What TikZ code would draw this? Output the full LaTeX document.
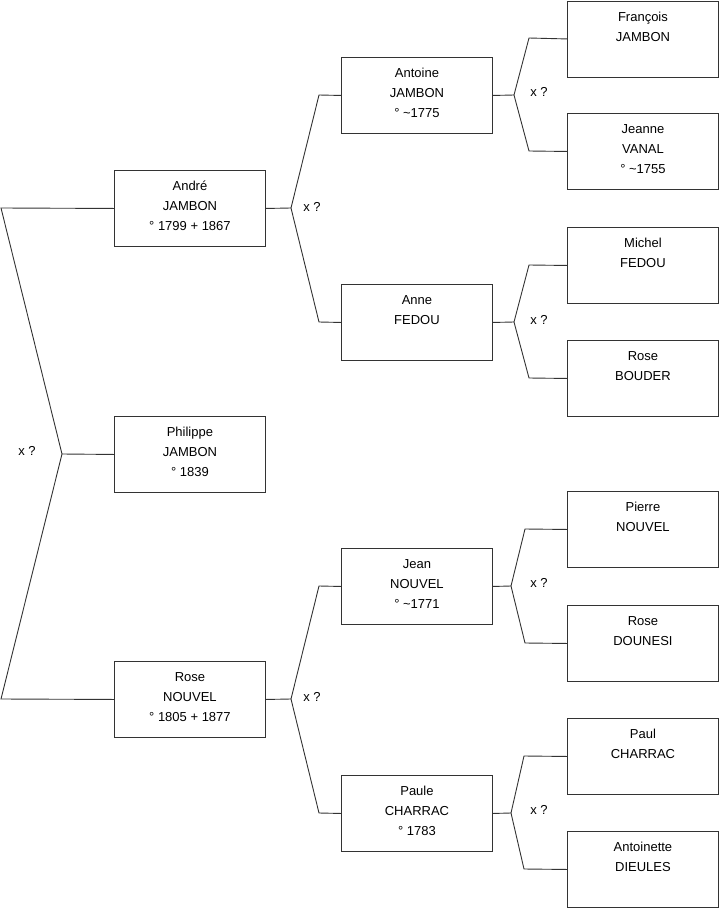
\documentclass[tikz,border=0pt]{standalone}
\usepackage{fontspec}
\setmainfont{Liberation Sans}
\newcommand\pbox[1]{\parbox[c][76pt][t]{151pt}{\fontsize{13}{20}\selectfont\centering\rule{0pt}{20.5pt}#1}}
\tikzset{
 person/.style={draw=black!80, line width=0.9pt, inner sep=0pt, anchor=north west},
 link/.style={draw=black!80, line width=0.9pt},
 marr/.style={font=\fontsize{13}{15}\selectfont, inner sep=0pt}
}
\begin{document}
\begin{tikzpicture}[x=1pt,y=-1pt]
\useasboundingbox (0,0) rectangle (719,908);
% column 1
\node[person] (andre) at (114,170) {\pbox{André\\JAMBON\\° 1799 + 1867}};
\node[person] (philippe) at (114,416) {\pbox{Philippe\\JAMBON\\° 1839}};
\node[person] (rose) at (114,661) {\pbox{Rose\\NOUVEL\\° 1805 + 1877}};
% column 2
\node[person] (antoine) at (341,57) {\pbox{Antoine\\JAMBON\\° \textasciitilde1775}};
\node[person] (anne) at (341,284) {\pbox{Anne\\FEDOU}};
\node[person] (jean) at (341,548) {\pbox{Jean\\NOUVEL\\° \textasciitilde1771}};
\node[person] (paule) at (341,775) {\pbox{Paule\\CHARRAC\\° 1783}};
% column 3
\node[person] (francois) at (567,0.5) {\pbox{François\\JAMBON}};
\node[person] (jeanne) at (567,113) {\pbox{Jeanne\\VANAL\\° \textasciitilde1755}};
\node[person] (michel) at (567,227) {\pbox{Michel\\FEDOU}};
\node[person] (roseb) at (567,340) {\pbox{Rose\\BOUDER}};
\node[person] (pierre) at (567,491) {\pbox{Pierre\\NOUVEL}};
\node[person] (rosed) at (567,605) {\pbox{Rose\\DOUNESI}};
\node[person] (paul) at (567,718) {\pbox{Paul\\CHARRAC}};
\node[person] (antoinette) at (567,831) {\pbox{Antoinette\\DIEULES}};
% fork coordinates
\coordinate (f0) at (62,454);
\coordinate (c0a) at (1,208);
\coordinate (c0b) at (1,699);
\coordinate (f1) at (291,208);
\coordinate (c1a) at (319,95);
\coordinate (c1b) at (319,322);
\coordinate (f2) at (291,699);
\coordinate (c2a) at (319,586);
\coordinate (c2b) at (319,813);
\coordinate (f3) at (514,95);
\coordinate (c3a) at (529,38);
\coordinate (c3b) at (529,151);
\coordinate (f4) at (514,322);
\coordinate (c4a) at (529,265);
\coordinate (c4b) at (529,378);
\coordinate (f5) at (511,586);
\coordinate (c5a) at (525,529);
\coordinate (c5b) at (525,643);
\coordinate (f6) at (511,813);
\coordinate (c6a) at (524,756);
\coordinate (c6b) at (524,869);
% connectors
\draw[link] (philippe.west) -- (f0) -- (c0a) -- (andre.west);
\draw[link] (f0) -- (c0b) -- (rose.west);
\draw[link] (andre.east) -- (f1) -- (c1a) -- (antoine.west);
\draw[link] (f1) -- (c1b) -- (anne.west);
\draw[link] (rose.east) -- (f2) -- (c2a) -- (jean.west);
\draw[link] (f2) -- (c2b) -- (paule.west);
\draw[link] (antoine.east) -- (f3) -- (c3a) -- (francois.west);
\draw[link] (f3) -- (c3b) -- (jeanne.west);
\draw[link] (anne.east) -- (f4) -- (c4a) -- (michel.west);
\draw[link] (f4) -- (c4b) -- (roseb.west);
\draw[link] (jean.east) -- (f5) -- (c5a) -- (pierre.west);
\draw[link] (f5) -- (c5b) -- (rosed.west);
\draw[link] (paule.east) -- (f6) -- (c6a) -- (paul.west);
\draw[link] (f6) -- (c6b) -- (antoinette.west);
% marriage labels
\node[marr] (m0) at (27,451) {x ?};
\node[marr] (m1) at (312,207) {x ?};
\node[marr] (m2) at (312,697) {x ?};
\node[marr] (m3) at (539,92) {x ?};
\node[marr] (m4) at (539,320) {x ?};
\node[marr] (m5) at (539,583) {x ?};
\node[marr] (m6) at (539,810) {x ?};
\end{tikzpicture}
\end{document}
